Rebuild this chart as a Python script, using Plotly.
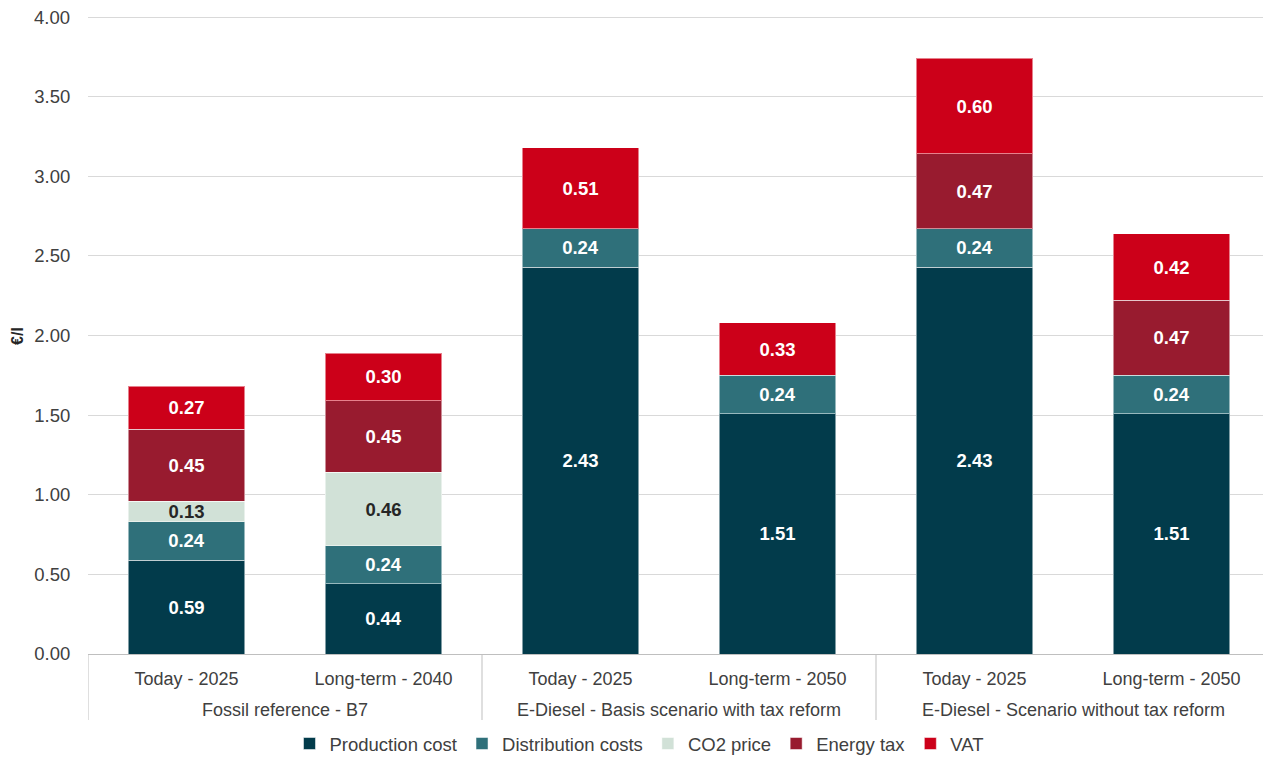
import plotly.graph_objects as go

groups = ["Fossil reference - B7",
          "E-Diesel - Basis scenario with tax reform",
          "E-Diesel - Scenario without tax reform"]
subs = ["Today - 2025", "Long-term - 2040", "Today - 2025", "Long-term - 2050",
        "Today - 2025", "Long-term - 2050"]

production = [0.59, 0.44, 2.43, 1.51, 2.43, 1.51]
distribution = [0.24, 0.24, 0.24, 0.24, 0.24, 0.24]
co2 = [0.13, 0.46, None, None, None, None]
energy_tax = [0.45, 0.45, None, None, 0.47, 0.47]
vat = [0.27, 0.30, 0.51, 0.33, 0.60, 0.42]

y_ticks = [0, 0.5, 1.0, 1.5, 2.0, 2.5, 3.0, 3.5, 4.0]

series = [
    ("Production cost", production, "#023B4B", "white"),
    ("Distribution costs", distribution, "#2F707A", "white"),
    ("CO2 price", co2, "#D1E1D7", "#262626"),
    ("Energy tax", energy_tax, "#981B2F", "white"),
    ("VAT", vat, "#CC0019", "white"),
]

FONT = "Liberation Sans, Arial"
xpos = list(range(len(subs)))

fig = go.Figure()
for name, vals, color, tcolor in series:
    fig.add_trace(go.Bar(
        name=name, x=xpos, y=vals,
        marker=dict(color=color, line=dict(color="rgba(255,255,255,0.5)", width=1)),
        text=[f"{v:.2f}" if v else "" for v in vals],
        texttemplate="%{text}",
        textposition="inside", insidetextanchor="middle", constraintext="none",
        textfont=dict(family=FONT, size=18.5, color=tcolor, weight="bold"),
        hoverinfo="skip",
    ))

# plot area: bottom at 646 px (figure coords), 4.00 at 9 px -> 637 px for 4 units
PLOT_H = 646
AX_BOTTOM_GAP = 637

# group dividers and labels
for b in [-0.5, 1.5, 3.5, 5.5]:
    fig.add_shape(type="line", xref="x", yref="paper", x0=b, x1=b, y0=0, y1=-66 / PLOT_H,
                  line=dict(color="#BFBFBF", width=1))
for i, g in enumerate(groups):
    fig.add_annotation(x=2 * i + 0.5, xref="x", y=-56 / PLOT_H, yref="paper", text=g,
                       showarrow=False, yanchor="middle",
                       font=dict(family=FONT, size=18, color="#404040"))

# top tick label (plotly hides it because it touches the figure edge)
top_tick = y_ticks[-1]
fig.add_annotation(x=0, xref="paper", y=top_tick, yref="y", text=f"{top_tick:.2f}",
                   showarrow=False, xanchor="right", yanchor="middle", xshift=-16,
                   font=dict(family=FONT, size=18.5, color="#404040"))

# y-axis title
fig.add_annotation(x=-0.0601, xref="paper", y=(646 - 328) / PLOT_H, yref="paper",
                   text="<b>€/l</b>", textangle=-90, showarrow=False,
                   xanchor="center", yanchor="middle",
                   font=dict(family=FONT, size=16, color="#262626"))

fig.update_layout(
    barmode="stack", bargap=0.41,
    width=1263, height=750,
    margin=dict(l=80, r=1, t=0, b=104),
    plot_bgcolor="white", paper_bgcolor="white",
    font=dict(family=FONT, size=18, color="#404040"),
    legend=dict(orientation="h", x=0.5, xanchor="center", xref="container",
                y=0.0187, yanchor="middle", yref="container",
                font=dict(size=18.5, color="#404040"), traceorder="normal",
                itemwidth=30, tracegroupgap=0),
    showlegend=True,
)
fig.update_yaxes(range=[0, 4 * PLOT_H / AX_BOTTOM_GAP], tickmode="array", tickvals=y_ticks,
                 ticktext=[f"{v:.2f}" for v in y_ticks[:-1]] + [""], showgrid=True,
                 gridcolor="#D9D9D9", gridwidth=1, zeroline=False, automargin=False,
                 ticks="outside", ticklen=13, tickcolor="rgba(0,0,0,0)",
                 tickfont=dict(size=18.5, color="#404040"))
fig.update_xaxes(range=[-0.5, 5.5], tickvals=xpos, ticktext=subs, automargin=False,
                 showline=True, linecolor="#BFBFBF", linewidth=1, showgrid=False,
                 zeroline=False, ticks="outside", ticklen=8, tickcolor="rgba(0,0,0,0)",
                 tickfont=dict(size=18, color="#404040"))

fig.write_html("out.html")
